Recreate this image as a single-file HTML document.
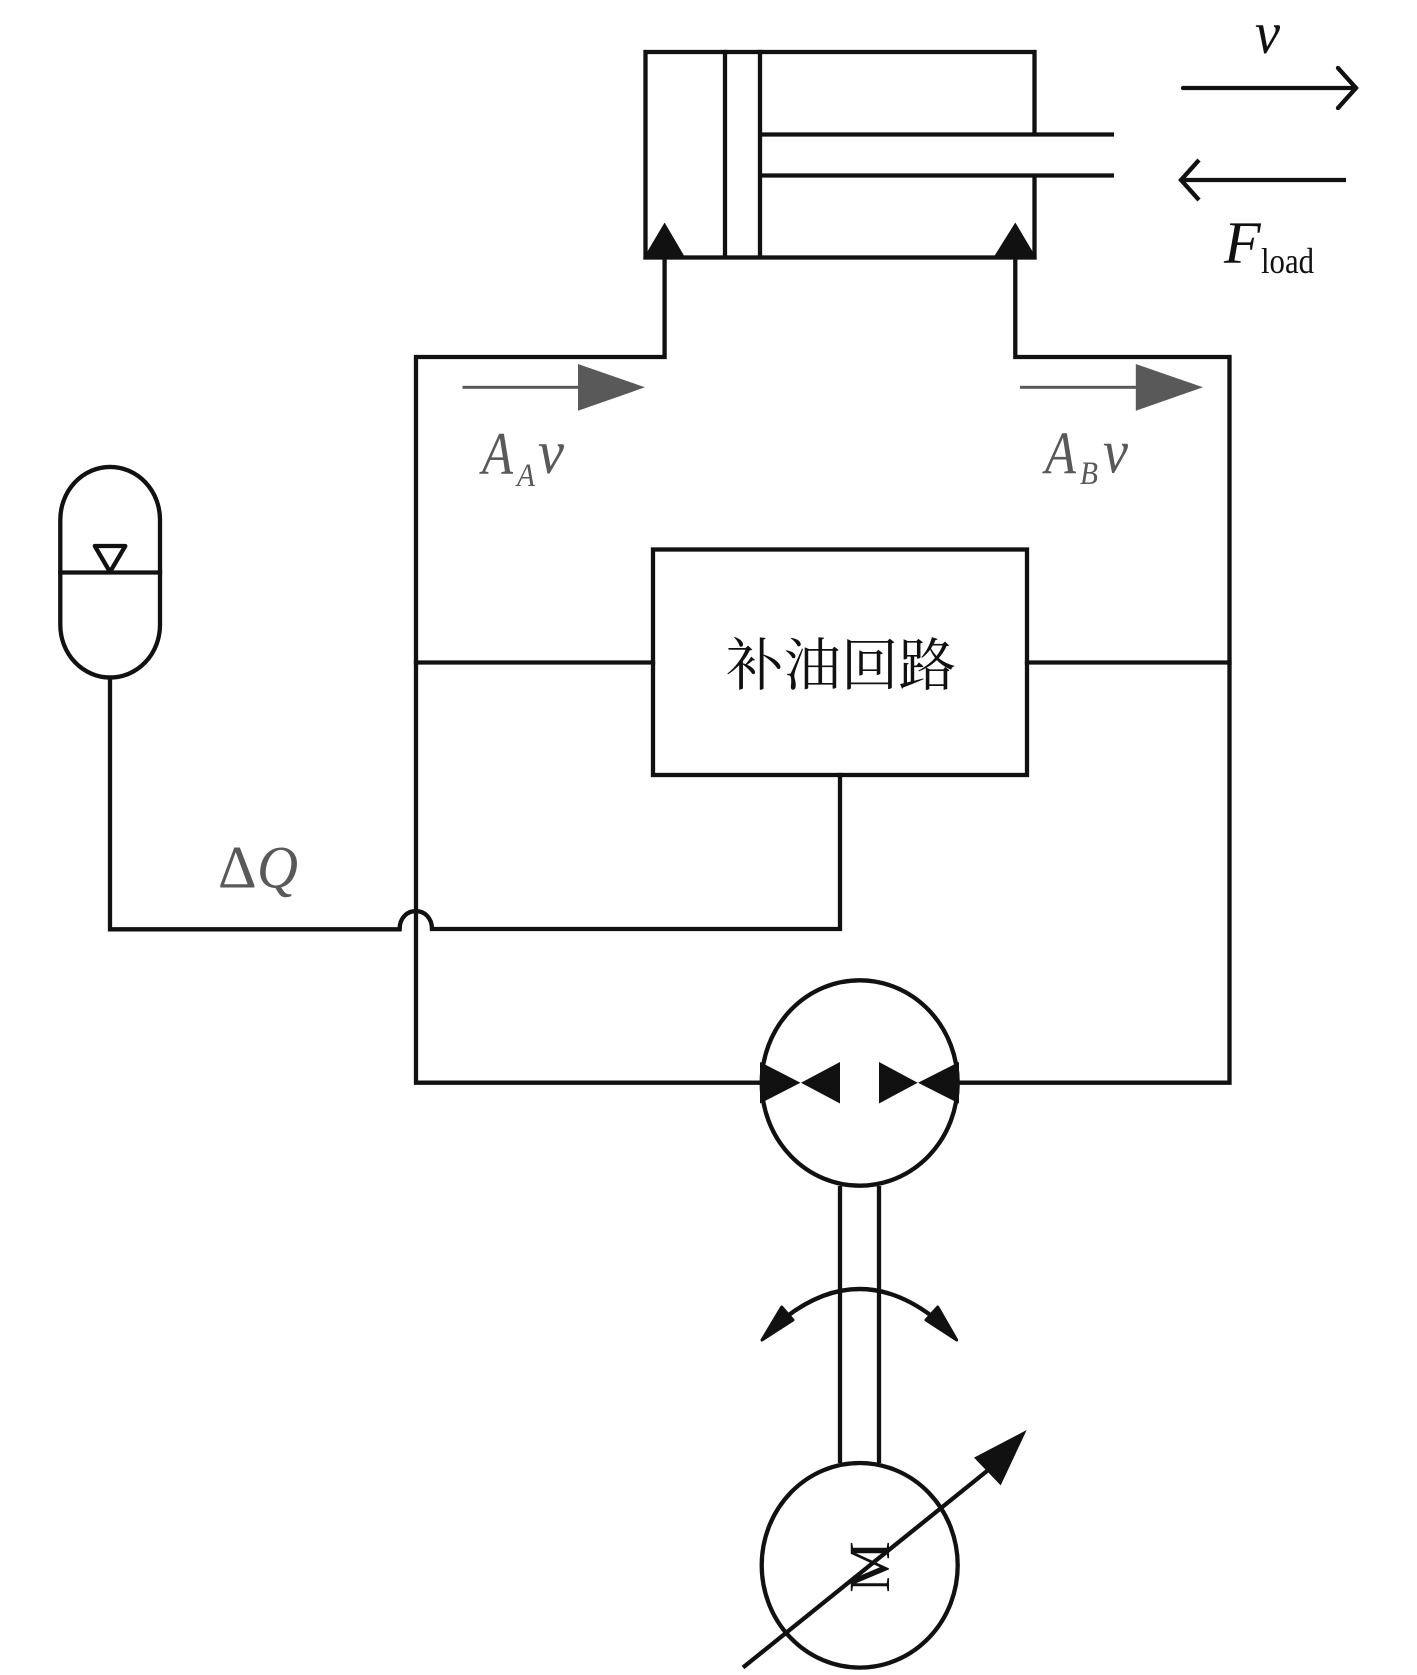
<!DOCTYPE html>
<html>
<head>
<meta charset="utf-8">
<style>
html,body{margin:0;padding:0;background:#fff;width:1417px;height:1675px;overflow:hidden}
svg{display:block}
text{font-family:"Liberation Serif","Noto Serif CJK SC",serif}
</style>
</head>
<body>
<svg width="1417" height="1675" viewBox="0 0 1417 1675" xmlns="http://www.w3.org/2000/svg">
<rect width="1417" height="1675" fill="#fff"/>
<g fill="none" stroke="#111" stroke-width="4.3" stroke-linecap="square" stroke-linejoin="miter">
  <!-- cylinder -->
  <rect x="645.5" y="52" width="389" height="205.5"/>
  <path d="M725 52V257M760 52V257"/>
  <path d="M1034.5 134.5V175.5" stroke="#fff" stroke-width="5" stroke-linecap="butt"/>
  <path d="M760 134.5H1114M760 175.5H1114" stroke-linecap="butt"/>
  <!-- velocity / force arrows -->
  <path d="M1183 88H1356M1338 68L1356 88L1338 108" stroke-linecap="round"/>
  <path d="M1346 180H1182M1199 160L1181 180L1199 200" stroke-linecap="butt"/>
  <!-- main loop -->
  <path d="M664.6 258V357H416V1082.7H762"/>
  <path d="M1015.3 258V357H1229.5V1082.7H958"/>
  <path d="M416 662.5H653M1027 662.5H1229.5"/>
  <!-- make-up box -->
  <rect x="653" y="549.5" width="374" height="225.5"/>
  <path d="M840 775V929H432"/>
  <!-- accumulator -->
  <path d="M60.3 519.6A49.8 52.6 0 0 1 160 519.6V625A49.8 52.5 0 0 1 60.3 625Z"/>
  <path d="M60.3 572.5H160"/>
  <path d="M94.8 546H125.3L110 572Z" stroke-linejoin="round"/>
  <path d="M110 677.5V929.3H399.6"/>
  <path d="M399.6 929.3C399.6 905 432 905 432 929.3" stroke-linecap="butt"/>
  <!-- pump -->
  <ellipse cx="859.7" cy="1083" rx="98" ry="102.7"/>
  <path d="M840 1186V1463M879 1186V1463" stroke-linecap="butt"/>
  <!-- motor -->
  <ellipse cx="859.7" cy="1565.3" rx="98" ry="102.3"/>
  <path d="M743 1667.5L987 1471" stroke-linecap="butt"/>
  <!-- rotation arc -->
  <path d="M786 1317Q859.5 1261 933 1317" stroke-linecap="butt"/>
</g>
<g fill="#111" stroke="none">
  <path d="M643 259L664.6 222.5L686 259Z"/>
  <path d="M992.5 259L1015.3 222.5L1037 259Z"/>
  <path d="M760 1062L800.5 1082.7L760 1103.5Z"/>
  <path d="M801 1082.7L840 1062V1103.5Z"/>
  <path d="M879 1062L917.7 1082.7L879 1103.5Z"/>
  <path d="M918 1082.7L959 1062V1103.5Z"/>
  <path d="M1026.7 1430L974 1457.6L1000.7 1485.4Z"/>
  <path d="M762 1340L781.7 1307L793 1320Z" stroke="#111" stroke-width="3" stroke-linejoin="round"/>
  <path d="M956.7 1340L937.7 1307L926 1320Z" stroke="#111" stroke-width="3" stroke-linejoin="round"/>
</g>
<!-- gray flow arrows -->
<g fill="#595959" stroke="none">
  <rect x="462.5" y="385.8" width="118" height="3"/>
  <path d="M578 364L645 387.3L578 410.7Z"/>
  <rect x="1020" y="385.8" width="118" height="3"/>
  <path d="M1135.8 364L1203 387.3L1135.8 410.7Z"/>
</g>
<!-- labels -->
<text x="726" y="685" font-size="57" fill="#111" textLength="230" lengthAdjust="spacingAndGlyphs">补油回路</text>
<text x="889" y="1567" font-size="58" fill="#111" text-anchor="middle" transform="rotate(-90 889 1567)">M</text>
<text x="1255" y="53" font-size="60" font-style="italic" fill="#111" textLength="25" lengthAdjust="spacingAndGlyphs">v</text>
<text x="1224" y="263" font-size="60" font-style="italic" fill="#111">F</text>
<text x="1261" y="273" font-size="36" fill="#111" textLength="53" lengthAdjust="spacingAndGlyphs">load</text>
<g fill="#595959">
  <text x="482" y="474" font-size="60" font-style="italic" textLength="31" lengthAdjust="spacingAndGlyphs">A</text>
  <text x="517" y="486" font-size="33" font-style="italic" textLength="18" lengthAdjust="spacingAndGlyphs">A</text>
  <text x="538" y="473" font-size="62" font-style="italic" textLength="26" lengthAdjust="spacingAndGlyphs">v</text>
  <text x="1045" y="473.5" font-size="60" font-style="italic" textLength="31" lengthAdjust="spacingAndGlyphs">A</text>
  <text x="1080" y="484" font-size="33" font-style="italic" textLength="18" lengthAdjust="spacingAndGlyphs">B</text>
  <text x="1103" y="472.5" font-size="62" font-style="italic" textLength="25" lengthAdjust="spacingAndGlyphs">v</text>
  <text x="218" y="887.5" font-size="60">Δ</text>
  <text x="257" y="887.5" font-size="60" font-style="italic" textLength="41" lengthAdjust="spacingAndGlyphs">Q</text>
</g>
</svg>
</body>
</html>
